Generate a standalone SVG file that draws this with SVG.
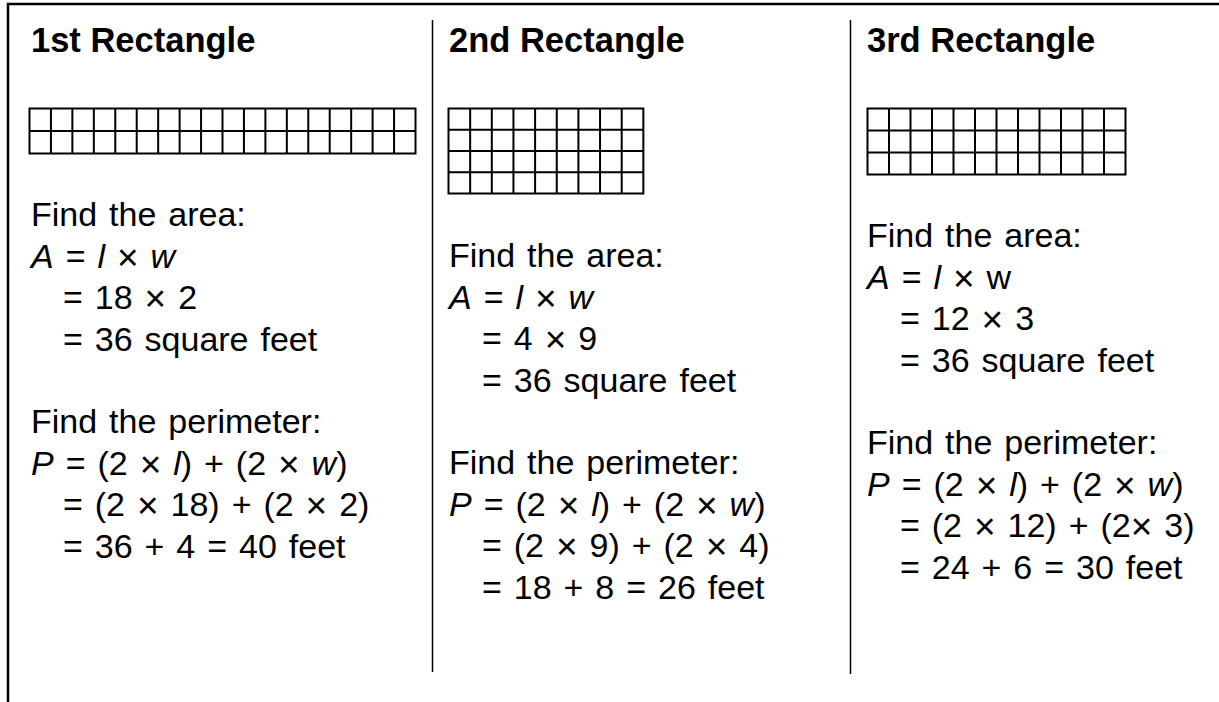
<svg xmlns="http://www.w3.org/2000/svg" width="1219" height="702" viewBox="0 0 1219 702">
<style>
  text { font-family: "Liberation Sans", Arial, sans-serif; fill: #000; }
  .title { font-size: 34.5px; font-weight: bold; }
  .body { font-size: 34px; word-spacing: 2.5px; }
  .i { font-style: italic; }
  .x { font-size: 37px; baseline-shift: -1.5px; }
  .grid { fill: none; stroke: #000; stroke-width: 2; }
  .frame { fill: none; stroke: #000; stroke-width: 2.5; }
  .divider { stroke: #000; stroke-width: 1.5; }
</style>
<rect width="1219" height="702" fill="#fff"/>
<g id="frame">
  <path class="frame" d="M8 702 V4 H1219"/>
  <line class="divider" x1="432.5" y1="20" x2="432.5" y2="672"/>
  <line class="divider" x1="850.5" y1="20" x2="850.5" y2="674"/>
</g>
<g id="rect1">
  <text class="title" x="31" y="52">1st Rectangle</text>
  <path class="grid" d="M29.5 108.5 H415.5 V153.5 H29.5 Z M29.5 131 H415.5 M50.94 108.5 V153.5 M72.39 108.5 V153.5 M93.83 108.5 V153.5 M115.28 108.5 V153.5 M136.72 108.5 V153.5 M158.17 108.5 V153.5 M179.61 108.5 V153.5 M201.06 108.5 V153.5 M222.5 108.5 V153.5 M243.94 108.5 V153.5 M265.39 108.5 V153.5 M286.83 108.5 V153.5 M308.28 108.5 V153.5 M329.72 108.5 V153.5 M351.17 108.5 V153.5 M372.61 108.5 V153.5 M394.06 108.5 V153.5"/>
  <text class="body" x="31" y="226">Find the area:</text>
  <text class="body" x="31" y="267.5"><tspan class="i">A</tspan> = <tspan class="i">l</tspan> <tspan class="x">×</tspan> <tspan class="i">w</tspan></text>
  <text class="body" x="63" y="309">= 18 <tspan class="x">×</tspan> 2</text>
  <text class="body" x="63" y="350.5">= 36 square feet</text>
  <text class="body" x="31" y="433">Find the perimeter:</text>
  <text class="body" x="31" y="474.5"><tspan class="i">P</tspan> = (2 <tspan class="x">×</tspan> <tspan class="i">l</tspan>) + (2 <tspan class="x">×</tspan> <tspan class="i">w</tspan>)</text>
  <text class="body" x="63" y="516">= (2 <tspan class="x">×</tspan> 18) + (2 <tspan class="x">×</tspan> 2)</text>
  <text class="body" x="63" y="557.5">= 36 + 4 = 40 feet</text>
</g>
<g id="rect2">
  <text class="title" x="449" y="52">2nd Rectangle</text>
  <path class="grid" d="M448.5 108.5 H643.35 V193.5 H448.5 Z M448.5 129.75 H643.35 M448.5 151 H643.35 M448.5 172.25 H643.35 M470.15 108.5 V193.5 M491.8 108.5 V193.5 M513.45 108.5 V193.5 M535.1 108.5 V193.5 M556.75 108.5 V193.5 M578.4 108.5 V193.5 M600.05 108.5 V193.5 M621.7 108.5 V193.5"/>
  <text class="body" x="449" y="267">Find the area:</text>
  <text class="body" x="449" y="308.5"><tspan class="i">A</tspan> = <tspan class="i">l</tspan> <tspan class="x">×</tspan> <tspan class="i">w</tspan></text>
  <text class="body" x="482" y="350">= 4 <tspan class="x">×</tspan> 9</text>
  <text class="body" x="482" y="391.5">= 36 square feet</text>
  <text class="body" x="449" y="474">Find the perimeter:</text>
  <text class="body" x="449" y="515.5"><tspan class="i">P</tspan> = (2 <tspan class="x">×</tspan> <tspan class="i">l</tspan>) + (2 <tspan class="x">×</tspan> <tspan class="i">w</tspan>)</text>
  <text class="body" x="482" y="557">= (2 <tspan class="x">×</tspan> 9) + (2 <tspan class="x">×</tspan> 4)</text>
  <text class="body" x="482" y="598.5">= 18 + 8 = 26 feet</text>
</g>
<g id="rect3">
  <text class="title" x="867" y="52">3rd Rectangle</text>
  <path class="grid" d="M867.5 108.5 H1125.5 V174.5 H867.5 Z M867.5 130.5 H1125.5 M867.5 152.5 H1125.5 M889 108.5 V174.5 M910.5 108.5 V174.5 M932 108.5 V174.5 M953.5 108.5 V174.5 M975 108.5 V174.5 M996.5 108.5 V174.5 M1018 108.5 V174.5 M1039.5 108.5 V174.5 M1061 108.5 V174.5 M1082.5 108.5 V174.5 M1104 108.5 V174.5"/>
  <text class="body" x="867" y="247">Find the area:</text>
  <text class="body" x="867" y="288.5"><tspan class="i">A</tspan> = <tspan class="i">l</tspan> <tspan class="x">×</tspan> w</text>
  <text class="body" x="900" y="330">= 12 <tspan class="x">×</tspan> 3</text>
  <text class="body" x="900" y="371.5">= 36 square feet</text>
  <text class="body" x="867" y="454">Find the perimeter:</text>
  <text class="body" x="867" y="495.5"><tspan class="i">P</tspan> = (2 <tspan class="x">×</tspan> <tspan class="i">l</tspan>) + (2 <tspan class="x">×</tspan> <tspan class="i">w</tspan>)</text>
  <text class="body" x="900" y="537">= (2 <tspan class="x">×</tspan> 12) + (2<tspan class="x">×</tspan> 3)</text>
  <text class="body" x="900" y="578.5">= 24 + 6 = 30 feet</text>
</g>
</svg>
